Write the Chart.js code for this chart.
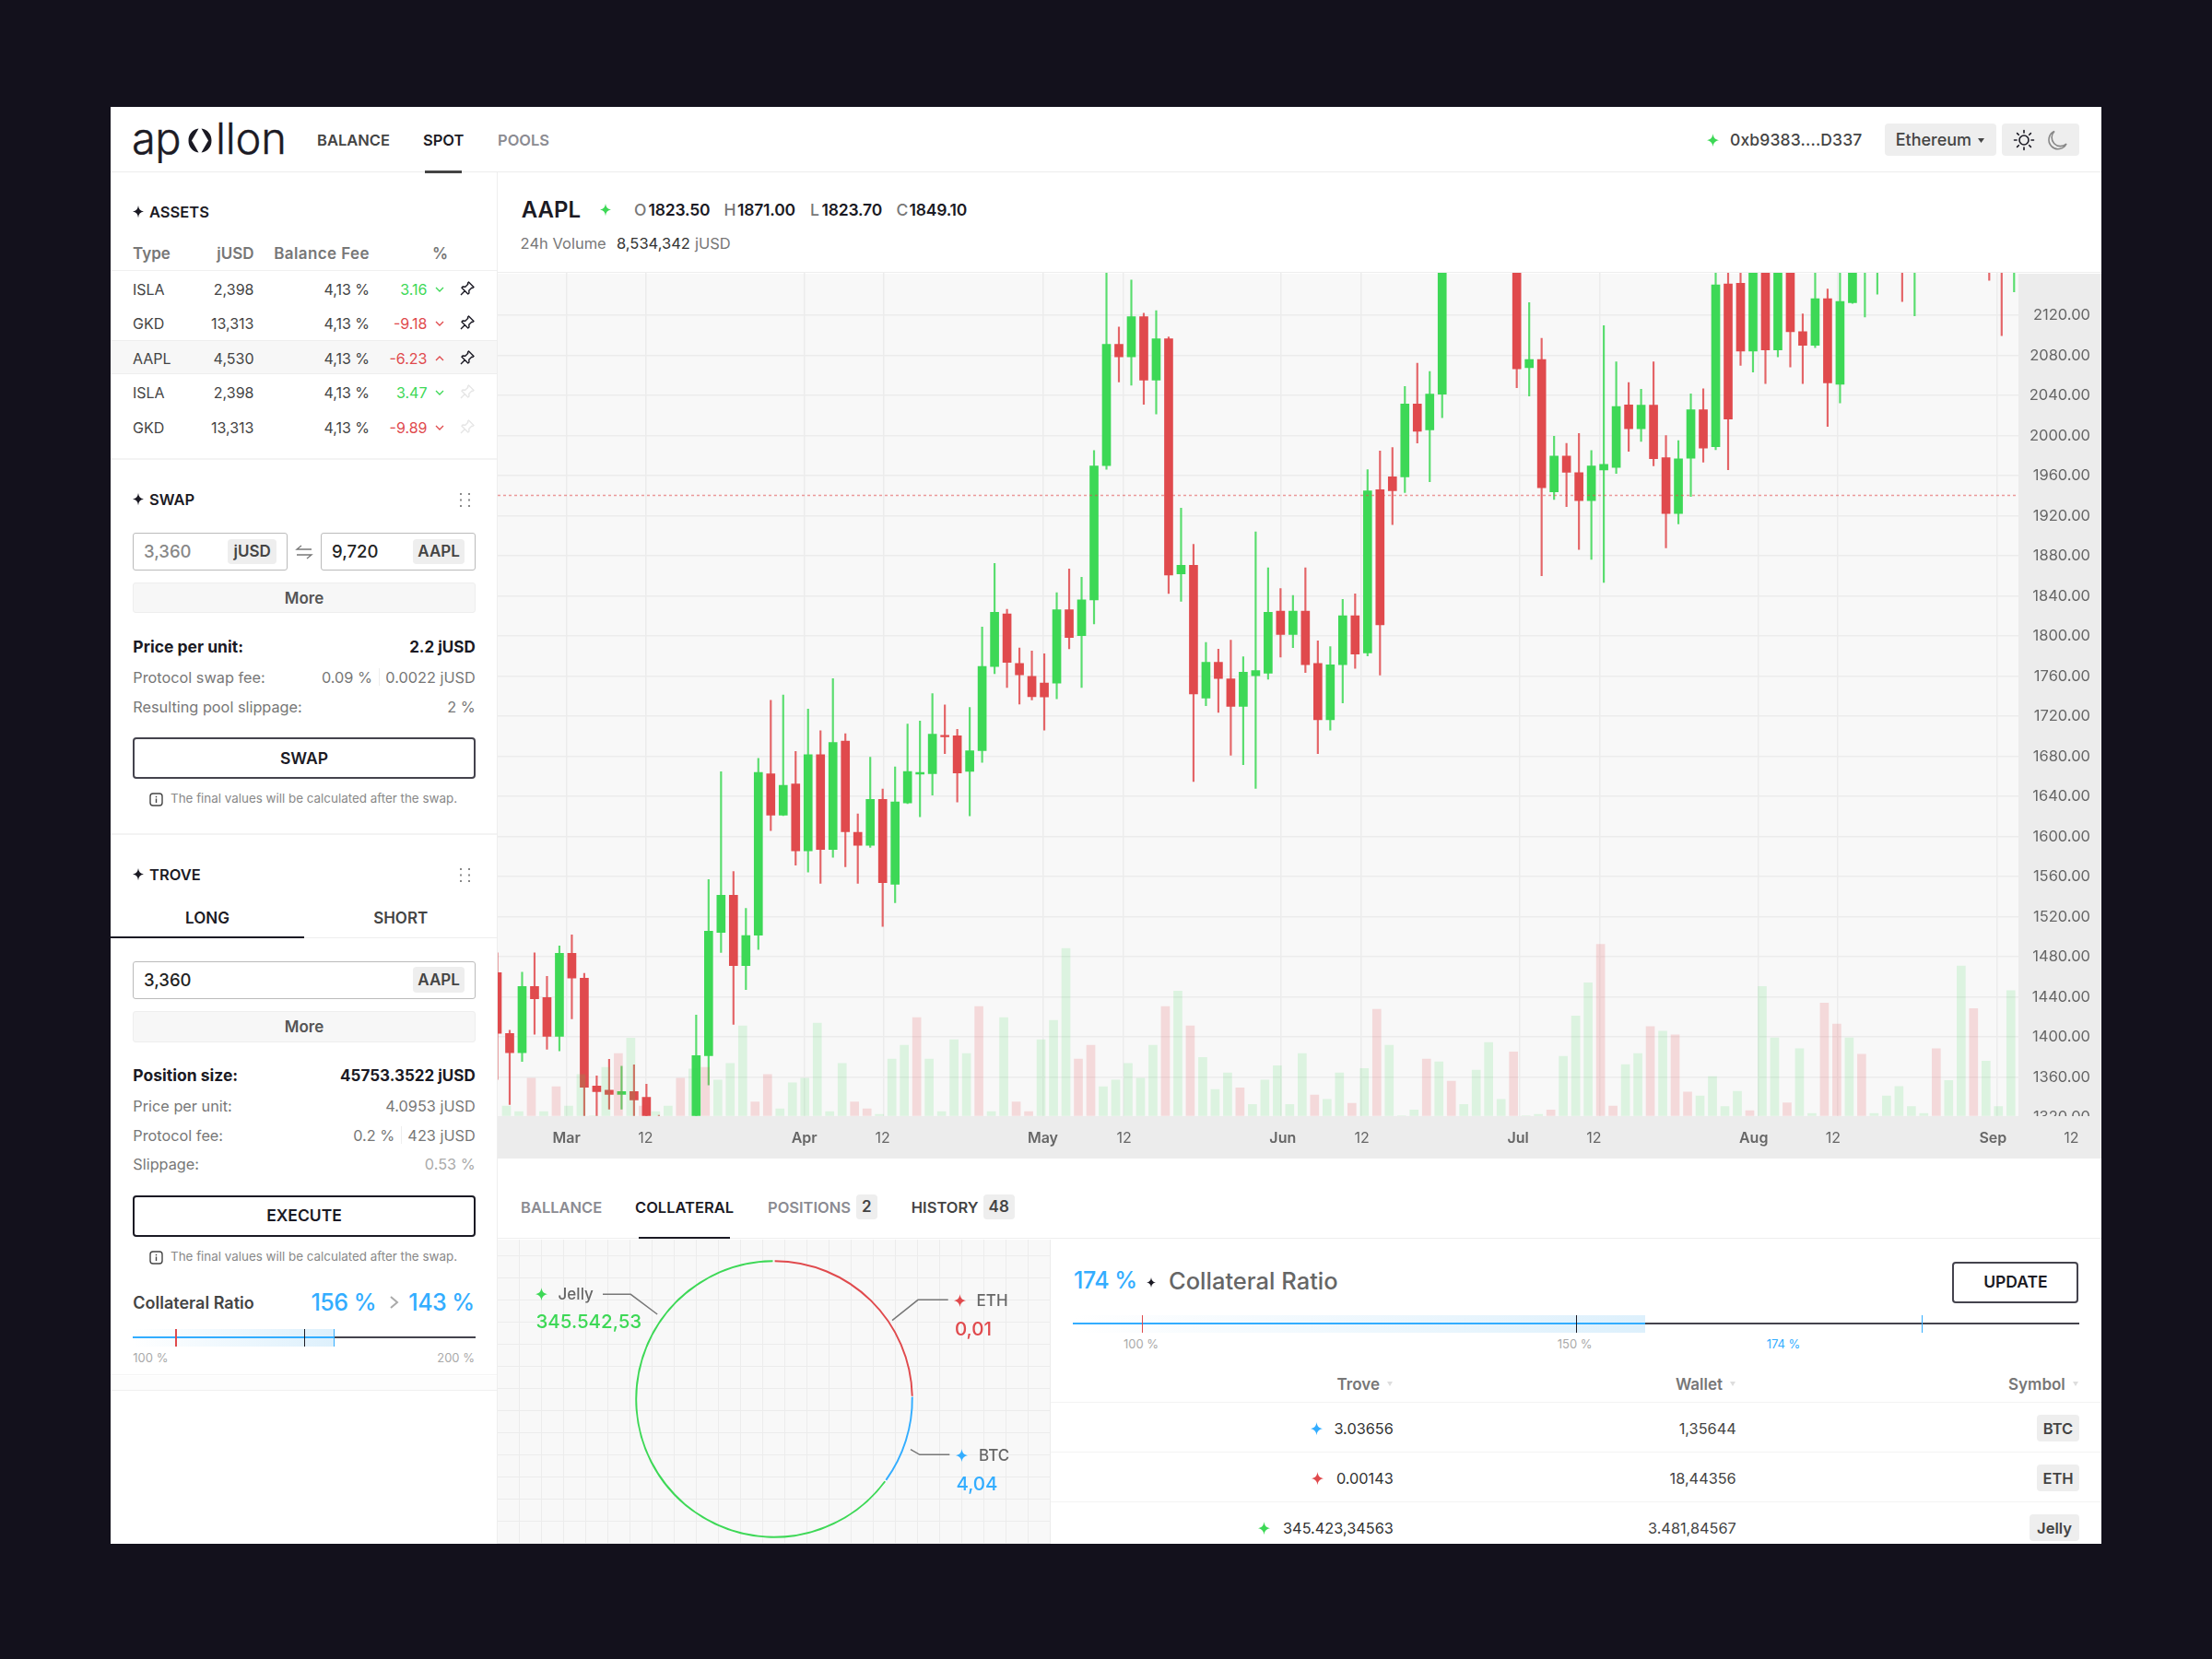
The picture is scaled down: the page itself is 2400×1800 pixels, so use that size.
<!DOCTYPE html>
<html><head><meta charset="utf-8"><title>Apollon</title>
<script src="https://cdn.jsdelivr.net/npm/chart.js@4/dist/chart.umd.js"></script>
<style>
html,body{margin:0;padding:0;width:2400px;height:1800px;background:#13111c;overflow:hidden;font-family:Inter,"Noto Sans",sans-serif;}
#ui{position:absolute;left:0;top:0;width:2400px;height:1800px;overflow:hidden}
.t{position:absolute;white-space:nowrap;line-height:1;}
.r{position:absolute;box-sizing:border-box}
canvas{position:absolute}
svg{position:absolute;overflow:visible}
</style></head><body><div id="ui"></div>
<script>
/* ---------- chart data ---------- */
const opens=[1464.2,1403.5,1384.5,1450.4,1439.4,1400.7,1483.5,1458.7,1351.1,1347.1,1342.8,1345.6,1339.8,1315,1304,1298,1320,1381.4,1504.4,1541.4,1471.2,1501.6,1662.6,1621.4,1652.6,1585.9,1681.8,1587.1,1695.4,1604.2,1591.4,1637.2,1552.5,1633.5,1662.4,1662.8,1701,1700.7,1665,1685.7,1769.8,1822.3,1772.8,1760,1753.2,1753.2,1826.4,1800.5,1836.2,1970.2,2091.1,2078.7,2118.8,2055.4,2096.7,1862.1,1870.7,1738.2,1773.9,1757.4,1730,1760.4,1763,1824.9,1801.7,1824.9,1772.8,1716.5,1771.6,1820.4,1783.3,1946.2,1958.9,1958.9,2031.7,2005.8,2041.5,2190,2205,2218,2200,2212,2195,2067.8,2076,1943.9,1979.6,1963.1,1935.3,1965.7,1968.3,2030.6,2007,2030.5,1978.1,1922.3,1977.5,2025.8,1988.9,2151.5,2152,2084.4,2178,2085.5,2172,2103.7,2090.1,2136.7,2051.4,2132.7,2175,2170,2180,2190,2170,2190,2180,2195,2205,2185,2200,2175,2165];
const highs=[1484.1,1406.9,1464.8,1484.1,1460.5,1490.9,1501.9,1463.6,1361.2,1377.8,1371,1372.2,1352.9,1322,1312,1314,1421.9,1557.1,1664.7,1565.3,1528.3,1678,1736,1741.2,1684.9,1727.3,1705.6,1757.7,1702.6,1622.6,1679.3,1647.4,1669.5,1712.3,1715.3,1742.7,1731.5,1707.1,1728.8,1809.2,1872.6,1826.8,1788.1,1785.1,1782.5,1843.3,1867,1858.7,1985.2,2170,2108.3,2155.2,2122.2,2124.8,2098.6,1927.8,1891.7,1793.8,1787,1796,1779.5,1904.1,1868.1,1847.5,1840.7,1868.1,1795.3,1789.6,1836.6,1842.2,1966.1,1984.8,1988.2,2049,2072.3,2064,2205,2220,2232,2240,2226,2238,2210,2132.7,2097.1,1999.5,1992.3,2002.1,1985.2,2109.8,2073.8,2053.1,2046.4,2073.7,2000.2,1995.1,2041.7,2046.9,2172,2172,2172,2190,2195,2190,2185,2121.4,2172,2146.4,2172,2190,2200,2195,2200,2200,2200,2205,2200,2215,2220,2210,2205,2190,2200];
const lows=[1357.8,1332.7,1375.6,1402.9,1387.9,1386.3,1418.2,1310,1315,1328.1,1328.1,1315,1310,1300,1290,1285,1310,1352.3,1484.4,1412.7,1447.3,1487.5,1606.1,1621,1571.5,1564.7,1553.4,1579.4,1569.9,1553.4,1589.3,1510.5,1534.1,1633,1619.9,1641.4,1682.7,1634.6,1620.7,1674,1762.6,1748.7,1732.2,1736.3,1706.3,1737.5,1787.4,1748.7,1812.2,1966.4,2053.5,2050.5,2031.4,2021.6,1842.6,1834.7,1654.9,1730.7,1724,1681.2,1671.8,1648.1,1757,1779.1,1788.5,1763.7,1682.7,1706.3,1733.3,1767.9,1780.3,1761.1,1911.3,1943.2,1992.7,1954.1,2017.9,2172,2186,2190,2178,2188,2047.9,2039.6,1860.2,1936.4,1929.3,1886.5,1876.7,1853.5,1962.3,1984.5,1994.2,1970,1888.2,1912.1,1939.4,1973.5,1986,1966.1,2070.2,2063.4,2052,2078.7,2068.5,2052,2087.8,2009.3,2032.6,2132,2118.5,2141.3,2170,2133.9,2119.7,2172,2170,2180,2175,2172,2154.9,2099.8,2143.5];
const closes=[1403.8,1384.5,1450.4,1438.1,1400.7,1483.5,1459,1349.9,1345.6,1342.8,1345.6,1337.3,1320,1305,1298,1310,1381.4,1505.6,1541.4,1471.2,1501.3,1664,1621.4,1651.1,1585.9,1681.8,1587.1,1693.9,1604.9,1591.4,1637.2,1554,1634.6,1665,1664,1702.2,1699.6,1663.5,1685.7,1769.8,1823.8,1773.9,1761.5,1739.7,1739.4,1826.4,1798.7,1836.2,1969.8,2091.1,2078.7,2118.8,2055.4,2096.7,1861,1870.7,1742.4,1773.9,1757.7,1730,1764.1,1765.6,1823.8,1801.7,1824.9,1771.6,1716.5,1771.3,1820.4,1782.1,1945,1811.4,1945,2031.7,2004.3,2041.5,2190,2205,2218,2200,2212,2195,2066.7,2076,1948,1979.6,1963.4,1935.3,1969.8,1971.3,2029.1,2007,2030.5,1977,1922.3,1976.9,2025.8,1987.7,2150.4,2016.7,2084.4,2175,2085.5,2175,2103.7,2090.1,2136.7,2052.6,2133.9,2172,2190,2185,2190,2175,2190,2180,2195,2205,2185,2200,2175,2165,2190];
const volumes=[10.7,4.7,41,4.7,31.7,10.7,45,0,52.7,67.7,84.3,10.7,4.7,10.7,41,51,52.7,39,57,97.7,15,45,7.7,36,41,100.7,4.7,57,15,7.7,1.7,61.7,76.7,106.7,61.7,4.7,82.7,67.7,118.7,4.7,106.7,15,4.7,82.7,103.7,181.7,61.7,76.7,31.7,39,57,41,76.7,118.7,135.3,97.7,63.3,28.7,46.7,30.3,12.3,39,54.3,12.3,67.7,22.7,18,46.7,13.7,51.3,115.7,76.7,0,6.3,61.7,58.7,37.7,12.3,49.7,79.7,18,69.3,0,1.7,6.3,64.7,108.3,144.3,186.3,10.7,55.7,67.7,97,92,87.8,26,21.6,42.7,10,26.6,5.6,140.4,84.7,14.2,73,2.5,122.4,99.6,84.7,66.8,2.5,21.6,32,10,2.5,73,38.3,162.6,116.3,59.4,10,136];
const volumeUp=[1,1,0,1,0,1,1,1,1,0,1,0,1,1,0,1,0,1,1,1,0,0,1,1,1,1,1,1,0,0,1,1,1,0,1,1,1,1,0,1,1,0,0,1,1,1,0,0,1,1,1,1,1,0,1,0,1,1,1,0,1,1,1,1,1,0,1,1,0,1,0,1,1,1,0,1,0,1,1,1,1,0,1,1,0,1,1,1,0,0,1,1,0,1,0,0,1,1,1,1,0,1,1,0,1,1,0,0,1,0,1,1,1,1,1,0,1,1,0,1,1,1];
const priceTicks=[2120,2080,2040,2000,1960,1920,1880,1840,1800,1760,1720,1680,1640,1600,1560,1520,1480,1440,1400,1360,1320];
const priceLine=1940.5;
const gridTicks=[5.55,11.93,24.70,31.11,43.88,50.33,63.06,69.47,82.25,88.66,101.45,107.82,120.62];
const dateLabelAt=[5.57,11.93,24.70,31.0,43.88,50.41,63.18,69.55,82.10,88.2,101.05,107.45,120.3,126.6];
const dateLabels=['Mar','12','Apr','12','May','12','Jun','12','Jul','12','Aug','12','Sep','12'];
const shareNames=['ETH','BTC','Jelly'];
const shares=[89,37,234];

const GREEN='#3dd856',RED='#e04a4d',BLUE='#33adff',INK='#1b1a24',GREY='#777';
const ui=document.getElementById('ui');
function T(s,x,y,o={}){const d=document.createElement('div');d.className='t';d.textContent=s;
 const a=o.a||'l';let tx=a==='c'?'-50%':'0';
 if(a==='r')d.style.right=(2400-x)+'px';else d.style.left=x+'px';
 d.style.top=y+'px';d.style.transform=`translate(${tx},-50%)`;
 d.style.fontSize=(o.s||16)+'px';d.style.fontWeight=o.w||400;d.style.color=o.c||'#444';
 if(o.ls)d.style.letterSpacing=o.ls+'px';ui.appendChild(d);return d;}
function R(x1,y1,x2,y2,css=''){const d=document.createElement('div');d.className='r';
 d.style.cssText=`left:${x1}px;top:${y1}px;width:${x2-x1}px;height:${y2-y1}px;`+css;ui.appendChild(d);return d;}
function S(x,y,w,h,inner,vb){const n=document.createElement('div');n.style.cssText=`position:absolute;left:${x-w/2}px;top:${y-h/2}px;width:${w}px;height:${h}px`;
 n.innerHTML=`<svg width="${w}" height="${h}" viewBox="${vb||`0 0 ${w} ${h}`}" style="left:0;top:0">${inner}</svg>`;ui.appendChild(n);return n;}
function star(x,y,c,sz=13){S(x,y,sz,sz*1.1,`<path fill="${c}" d="M12 0C12.9 7 16.5 11 24 12 16.5 13 12.9 17 12 24 11.1 17 7.5 13 0 12 7.5 11 11.1 7 12 0Z"/>`,'0 0 24 24').firstChild.setAttribute('preserveAspectRatio','none');}
function dots(x,y){let p='';for(const a of [2,11])for(const b of [2,8.5,15])p+=`<rect x="${a}" y="${b}" width="2" height="2" fill="#888"/>`;S(x,y,15,18,p);}
function info(x,y){S(x,y,15,15,`<rect x="1" y="1" width="13" height="13" rx="3" fill="none" stroke="#444" stroke-width="1.4"/><rect x="6.8" y="6.5" width="1.4" height="4.5" fill="#444"/><rect x="6.8" y="3.8" width="1.4" height="1.5" fill="#444"/>`);}
function pin(x,y,c){S(x,y,16,16,`<path fill="none" stroke="${c}" stroke-width="1.4" stroke-linejoin="round" d="M9.5 1 15 6.5 13.8 7.5 12.8 7.2 9.8 10.2 10 13 8.8 14 2 7.2 3 6 5.8 6.2 8.8 3.2 8.5 2.2ZM5.2 10.8 1 15"/>`);}
function chev(x,y,c,up){S(x,y,10,6,`<path fill="none" stroke="${c}" stroke-width="1.3" d="${up?'M1 5 5 1 9 5':'M1 1 5 5 9 1'}"/>`);}
function pill(x1,y1,x2,y2,s,o={}){R(x1,y1,x2,y2,'background:#eeeeee;border-radius:4px');T(s,(x1+x2)/2,(y1+y2)/2,{a:'c',s:o.s||17,w:600,c:'#444'});}
function hr(x1,x2,y,c='#eeeeee',h=1.5){R(x1,y-h/2,x2,y+h/2,'background:'+c);}

/* ---------- card ---------- */
R(120,116,2280,1675,'background:#fff');
hr(120,2280,186.5,'#ececec',1.5);
R(538.5,187,540,1675,'background:#eeeeee');

/* logo */
T('ap',143,149,{s:47,w:300,c:INK,ls:-.5}).style.webkitTextStroke='.4px '+INK;
S(216.5,152,26,27,`<path fill="${INK}" d="M11.5.5C4.5 1.5.5 7 .5 13.5s4 12 11 13L4 13.5Z"/><path fill="${INK}" d="M14.5.5C21.5 1.5 25.5 7 25.5 13.5s-4 12-11 13L22 13.5Z"/>`);
T('llon',234,149,{s:47,w:300,c:INK,ls:-.2}).style.webkitTextStroke='.4px '+INK;
T('BALANCE',344,152,{s:16.5,w:600,c:'#444'});
T('SPOT',459,152,{s:16.5,w:600,c:INK});
T('POOLS',540,152,{s:16.5,w:600,c:'#8b8b92'});
R(460.5,185,501,187.5,'background:#444');
star(1858,152,GREEN,13);
T('0xb9383....D337',1877,152,{s:17.5,w:500,c:'#444',ls:.15});
R(2044.7,133.7,2165.7,169,'background:#eeeeee;border-radius:4px');
T('Ethereum',2056.7,152,{s:18,w:500,c:'#444'});
S(2149,152,7,5,'<path fill="#444" d="M0 0H7L3.5 5Z"/>');
R(2172.3,133.7,2255.7,169,'background:#eeeeee;border-radius:4px');
S(2195.7,151.5,24,24,`<circle cx="12" cy="12" r="5" fill="none" stroke="#1b1a24" stroke-width="1.6"/><path stroke="#1b1a24" stroke-width="1.6" stroke-linecap="round" d="M12 1.5V4M12 20V22.5M1.5 12H4M20 12H22.5M4.6 4.6 6.3 6.3M17.7 17.7 19.4 19.4M4.6 19.4 6.3 17.7M17.7 6.3 19.4 4.6"/>`);
S(2231.7,151.5,24,24,`<path fill="none" stroke="#888" stroke-width="1.6" d="M9 2.5A10 10 0 1 0 22 16 9 9 0 0 1 9 2.5Z"/>`);

/* assets */
star(150,230,INK,12);T('ASSETS',162,230,{s:16.5,w:600,c:INK});
T('Type',144,275,{s:17,w:600,c:GREY});T('jUSD',275.5,275,{a:'r',s:17,w:600,c:GREY});
T('Balance Fee',401,275,{a:'r',s:17,w:600,c:GREY,ls:.4});T('%',486,275,{a:'r',s:17,w:600,c:GREY});
hr(120,539,293.5,'#f0f0f0');
R(120,369.3,539,405.7,'background:#f7f7f7;border-top:1.5px solid #eeeeee;border-bottom:1.5px solid #eeeeee');
const assetRows=[['ISLA','2,398','3.16',1,1],['GKD','13,313','-9.18',0,1],['AAPL','4,530','-6.23',0,1],['ISLA','2,398','3.47',1,0],['GKD','13,313','-9.89',0,0]];
assetRows.forEach((r,i)=>{const y=313.7+i*37.5;const col=r[3]?GREEN:RED;
 T(r[0],144,y,{s:16});T(r[1],275.5,y,{a:'r',s:16});T('4,13 %',401,y,{a:'r',s:16});
 T(r[2],463.5,y,{a:'r',s:16,c:col});chev(477,y,col,i===2);pin(507,y-1,r[4]?INK:'#e6e6e6');});
hr(120,539,498,'#f3f3f3');

/* swap */
star(150,541.8,INK,12);T('SWAP',162,541.8,{s:16.5,w:600,c:INK});dots(504,541.8);
function input(x1,y1,x2,y2,v,c,p,px){R(x1,y1,x2,y2,'border:1.5px solid #bbbbbb;border-radius:3px;background:#fff');T(v,x1+11.7,(y1+y2)/2,{s:18.5,w:500,c:c});pill(px,y1+7,x2-11.7,y2-7,p);}
input(144.3,577.6,311.7,618.9,'3,360','#888','jUSD',247.3);
input(348.3,577.6,515.7,618.9,'9,720','#222','AAPL',448.3);
S(330,599,18,16,`<path fill="none" stroke="#777" stroke-width="1.3" d="M17 5H1L6 1M1 11H17L12 15"/>`);
function more(y1,y2){R(144.3,y1,515.7,y2,'background:#f7f7f7;border:1px solid #eeeeee;border-radius:3px');T('More',330,(y1+y2)/2,{a:'c',s:17,w:600,c:'#555'});}
more(632.4,665.5);
T('Price per unit:',144.3,702,{s:17.5,w:700,c:INK});T('2.2 jUSD',515.7,702,{a:'r',s:17,w:700,c:INK});
T('Protocol swap fee:',144.3,735.2,{s:16.3,c:GREY});T('0.09 %',404,735.2,{a:'r',s:16.3,c:GREY});R(411,725,412.2,744,'background:#eeeeee');T('0.0022 jUSD',515.7,735.2,{a:'r',s:16.3,c:GREY});
T('Resulting pool slippage:',144.3,767,{s:16.3,c:GREY});T('2 %',515.7,767,{a:'r',s:16.3,c:GREY});
function btn(x1,y1,x2,y2,s,b='#2a2933'){R(x1,y1,x2,y2,`border:2px solid ${b};border-radius:4px;background:#fff`);T(s,(x1+x2)/2,(y1+y2)/2,{a:'c',s:17.5,w:600,c:INK});}
btn(144.3,799.7,515.7,845.4,'SWAP','#44434d');
info(169.2,867.3);T('The final values will be calculated after the swap.',185,867.3,{s:13.4,c:'#888'});
hr(120,539,905,'#f3f3f3');

/* trove */
star(150,948.5,INK,12);T('TROVE',162,948.5,{s:16.5,w:600,c:INK});dots(504,948.5);
T('LONG',225,995.8,{a:'c',s:17,w:600,c:INK});T('SHORT',434.7,995.8,{a:'c',s:17,w:600,c:'#444'});
hr(120,539,1017.5,'#eeeeee');R(120,1016.3,330,1018.5,'background:'+INK);
R(144.3,1042.7,515.7,1084,'border:1.5px solid #bbbbbb;border-radius:3px');T('3,360',156,1063.3,{s:18.5,w:500,c:'#222'});pill(448.3,1049.3,504,1077.3,'AAPL');
more(1096.7,1130.7);
T('Position size:',144.3,1167,{s:17.5,w:700,c:INK});T('45753.3522 jUSD',515.7,1167,{a:'r',s:17,w:700,c:INK});
T('Price per unit:',144.3,1200.3,{s:16.3,c:GREY});T('4.0953 jUSD',515.7,1200.3,{a:'r',s:16.3,c:GREY});
T('Protocol fee:',144.3,1231.7,{s:16.3,c:GREY});T('0.2 %',428.3,1231.7,{a:'r',s:16.3,c:GREY});R(435,1222,436.2,1241,'background:#eeeeee');T('423 jUSD',515.7,1231.7,{a:'r',s:16.3,c:GREY});
T('Slippage:',144.3,1263,{s:16.3,c:GREY});T('0.53 %',515.7,1263,{a:'r',s:16.3,c:'#aaaaaa'});
btn(144.3,1296.7,515.7,1341.7,'EXECUTE',INK);
info(169.2,1364);T('The final values will be calculated after the swap.',185,1364,{s:13.4,c:'#888'});
T('Collateral Ratio',144.3,1413.7,{s:18,w:600,c:'#444'});
T('156 %',408,1412.7,{a:'r',s:25,w:500,c:BLUE,ls:-.5});T('143 %',514.7,1412.7,{a:'r',s:25,w:500,c:BLUE,ls:-.5});
S(427,1413,9,14,'<path fill="none" stroke="#aaa" stroke-width="2" d="M1 1 8 7 1 13"/>');
function gauge(x1,x2,mid,y,b1,b2,ticks){R(x1,b1,mid,b2,'background:linear-gradient(90deg,rgba(221,240,252,0),#ddf0fc)');
 R(x1,y-.8,mid,y+.8,'background:'+BLUE);R(mid,y-.8,x2,y+.8,'background:#44434d');
 ticks.forEach(t=>R(t[0]-.7,b1,t[0]+.7,b2,'background:'+t[1]));}
gauge(144.3,516,362.3,1451,1441.7,1460.7,[[191,RED],[330.7,INK],[362.3,BLUE]]);
T('100 %',144.3,1472.7,{s:13,c:'#aaaaaa'});T('200 %',515,1472.7,{a:'r',s:13,c:'#aaaaaa'});
hr(120,539,1491.7,'#f5f5f5');R(120,1492.5,539,1509,'background:#fdfdfd;border-bottom:1.5px solid #f0f0f0');

/* chart header */
T('AAPL',565.8,228.3,{s:24,w:600,c:INK});star(657,228,GREEN,12);
[['O',688,'1823.50',703.6],['H',785.6,'1871.00',800],['L',879,'1823.70',891.6],['C',972.4,'1849.10',986.5]].forEach(a=>{T(a[0],a[1],228.3,{s:17.5,w:500,c:'#777'});T(a[2],a[3],228.3,{s:17.5,w:600,c:INK,ls:-.2});});
T('24h Volume',564.6,264.3,{s:16.5,c:GREY});T('8,534,342',669,264.3,{s:16.5,c:'#333'});T('jUSD',754,264.3,{s:16.5,c:GREY});
hr(540,2280,295.7,'#eeeeee');

/* chart background + axis strips */
R(540,296.5,2190,1211,'background:#f8f8f8');
R(2190,296.5,2280,1257,'background:#ececec');
R(540,1211,2190,1257,'background:#ececec');

/* main chart */
const mainC=document.createElement('canvas');mainC.style.left='540px';mainC.style.top='296px';mainC.width=1728;mainC.height=961;mainC.style.width='1728px';mainC.style.height='961px';ui.appendChild(mainC);
const XMIN=0.037,XMAX=122.35,VOL_OFFSET=0.74;
const up=i=>closes[i]>=opens[i];
const wickCol=opens.map((_,i)=>up(i)?'rgba(61,216,86,.85)':'rgba(224,74,77,.85)');
const bodyCol=opens.map((_,i)=>up(i)?GREEN:RED);
const GRID='#ececec';
new Chart(mainC,{type:'bar',data:{datasets:[
 {type:'bar',label:'Volume',data:volumes.map((v,j)=>({x:j+VOL_OFFSET,y:v})),backgroundColor:volumeUp.map(u=>u?'rgba(61,216,86,.15)':'rgba(224,74,77,.175)'),barThickness:9,grouped:false,xAxisID:'x',yAxisID:'yv',order:0},
 {type:'line',label:'Last',data:[{x:XMIN,y:priceLine},{x:XMAX,y:priceLine}],borderColor:'rgba(224,74,77,.55)',borderWidth:1.5,borderDash:[3,3],pointRadius:0,xAxisID:'x',yAxisID:'y',order:1},
 {type:'bar',label:'Body',data:opens.map((o,i)=>({x:i,y:[o,closes[i]]})),backgroundColor:bodyCol,barThickness:9,grouped:false,xAxisID:'x',yAxisID:'y',order:2},
 {type:'bar',label:'Wick',data:lows.map((l,i)=>({x:i,y:[l,highs[i]]})),backgroundColor:wickCol,barThickness:1.5,grouped:false,xAxisID:'x',yAxisID:'y',order:3}
]},options:{responsive:false,animation:false,events:[],layout:{padding:0},
 plugins:{legend:{display:false},tooltip:{enabled:false},title:{display:false}},
 scales:{
  x:{type:'linear',offset:false,position:'bottom',min:XMIN,max:XMAX,border:{display:false},
     grid:{color:GRID,lineWidth:1.5,drawTicks:false,offset:false},ticks:{display:false},
     afterBuildTicks:s=>{s.ticks=gridTicks.map(v=>({value:v}));},
     afterFit:s=>{s.height=0;s.paddingLeft=0;s.paddingRight=0;}},
  xl:{type:'linear',offset:false,axis:'x',position:'bottom',min:XMIN,max:XMAX,border:{display:false},grid:{display:false,drawTicks:false},
     ticks:{autoSkip:false,maxRotation:0,minRotation:0,padding:15,color:'#666',
       font:c=>({family:'Inter',size:16,weight:(c.tick&&dateLabels[dateLabelAt.indexOf(c.tick.value)]!=='12')?'600':'400'}),
       callback:v=>dateLabels[dateLabelAt.indexOf(v)]},
     afterBuildTicks:s=>{s.ticks=dateLabelAt.map(v=>({value:v}));},
     afterFit:s=>{s.height=46.3;s.paddingLeft=0;s.paddingRight=0;}},
  y:{type:'linear',position:'right',min:1321.4,max:2162.5,border:{display:false},
     grid:{drawTicks:false,lineWidth:1.5,color:c=>(c.tick&&c.tick.value===1320)?'rgba(0,0,0,0)':GRID},
     ticks:{autoSkip:false,color:'#666',padding:0,crossAlign:'far',font:{family:'Inter',size:16.5},callback:v=>Number(v).toFixed(2)},
     afterBuildTicks:s=>{s.ticks=priceTicks.map(v=>({value:v}));},
     afterFit:s=>{s.width=78;s.paddingTop=0;s.paddingBottom=0;}},
  yv:{type:'linear',display:false,min:0,max:915}
 }}});
R(2190,1210.5,2280,1224,'background:#ececec');

/* bottom tabs */
T('BALLANCE',565,1310,{s:16.5,w:600,c:'#8b8b92'});T('COLLATERAL',689,1310,{s:16.5,w:600,c:INK});
T('POSITIONS',833,1310,{s:16.5,w:600,c:'#8b8b92'});pill(928.7,1296,952,1322.7,'2');
T('HISTORY',988.8,1310,{s:16.5,w:600,c:'#444'});pill(1066.7,1296,1100.7,1322.7,'48');
hr(540,2280,1343.5,'#eeeeee');R(693,1342,791.5,1344,'background:'+INK);

/* doughnut panel */
R(540,1344.5,1139.5,1675,'background-color:#f8f8f8;background-image:linear-gradient(#ececec 1.5px,transparent 1.5px),linear-gradient(90deg,#ececec 1.5px,transparent 1.5px);background-size:24px 24px;background-position:23px 17px');
const donutC=document.createElement('canvas');donutC.style.left='680px';donutC.style.top='1357.7px';donutC.width=320;donutC.height=320;donutC.style.width='320px';donutC.style.height='320px';ui.appendChild(donutC);
new Chart(donutC,{type:'doughnut',data:{labels:shareNames,datasets:[{data:shares,backgroundColor:[RED,BLUE,GREEN],borderWidth:0,spacing:1.5}]},
 options:{responsive:false,animation:false,events:[],radius:150,cutout:'98.7%',layout:{padding:0},plugins:{legend:{display:false},tooltip:{enabled:false}}}});
S(840,1517.7,600,320,`<g fill="none" stroke="#777" stroke-width="1.5"><path d="M114 46.3H144.3L173.2 68"/><path d="M488.7 52.3H456L428 74.6"/><path d="M490.3 220.3H457.9L448 214.6"/></g>`);
star(587.4,1404,GREEN,13);T('Jelly',605.6,1404,{s:17,w:500,c:'#666'});T('345.542,53',581.5,1434.3,{s:20.5,w:500,c:GREEN});
star(1041,1410.7,RED,13);T('ETH',1059.6,1411,{s:17,w:500,c:'#666'});T('0,01',1035.9,1442,{s:20.5,w:500,c:RED});
star(1043.4,1579,BLUE,13);T('BTC',1062,1579,{s:17,w:500,c:'#666'});T('4,04',1037.4,1610,{s:20.5,w:500,c:BLUE});

/* collateral panel */
T('174 %',1165,1389.3,{s:25,w:500,c:BLUE,ls:-.5});star(1249.3,1391,INK,10);T('Collateral Ratio',1268,1390,{s:25.5,w:500,c:'#666'});
btn(2118.4,1368.7,2255.5,1414,'UPDATE','#44434d');
gauge(1164,2256,1784.7,1436,1426.7,1446,[[1239.7,RED],[1710.6,INK],[2085.4,BLUE]]);
T('100 %',1238,1458,{a:'c',s:13,c:'#aaaaaa'});T('150 %',1708.7,1458,{a:'c',s:13,c:'#aaaaaa'});T('174 %',1935,1458,{a:'c',s:13,c:BLUE});
[['Trove',1497,1508],['Wallet',1869,1880],['Symbol',2240.8,2252]].forEach(h=>{T(h[0],h[1],1501.7,{a:'r',s:17,w:600,c:GREY});S(h[2],1501,6,5,'<path fill="#ddd" d="M0 0H6L3 5Z"/>');});
[1521.7,1575.3,1629.3].forEach(y=>hr(1139.5,2280,y,'#f3f3f3'));
const holdRows=[['3.03656','1,35644','BTC',BLUE,2210,1428.2],['0.00143','18,44356','ETH',RED,2210,1429],['345.423,34563','3.481,84567','Jelly',GREEN,2202,1371]];
holdRows.forEach((r,i)=>{const y=1550.3+i*54;T(r[0],1511.8,y,{a:'r',s:16.3,c:'#333'});star(r[5],y-.5,r[3],13);T(r[1],1883.7,y,{a:'r',s:16.3,c:'#444'});pill(r[4],y-15,2256,y+14,r[2],{s:16.5});});
R(0,1675,2400,1800,'background:#13111c');
</script></body></html>
